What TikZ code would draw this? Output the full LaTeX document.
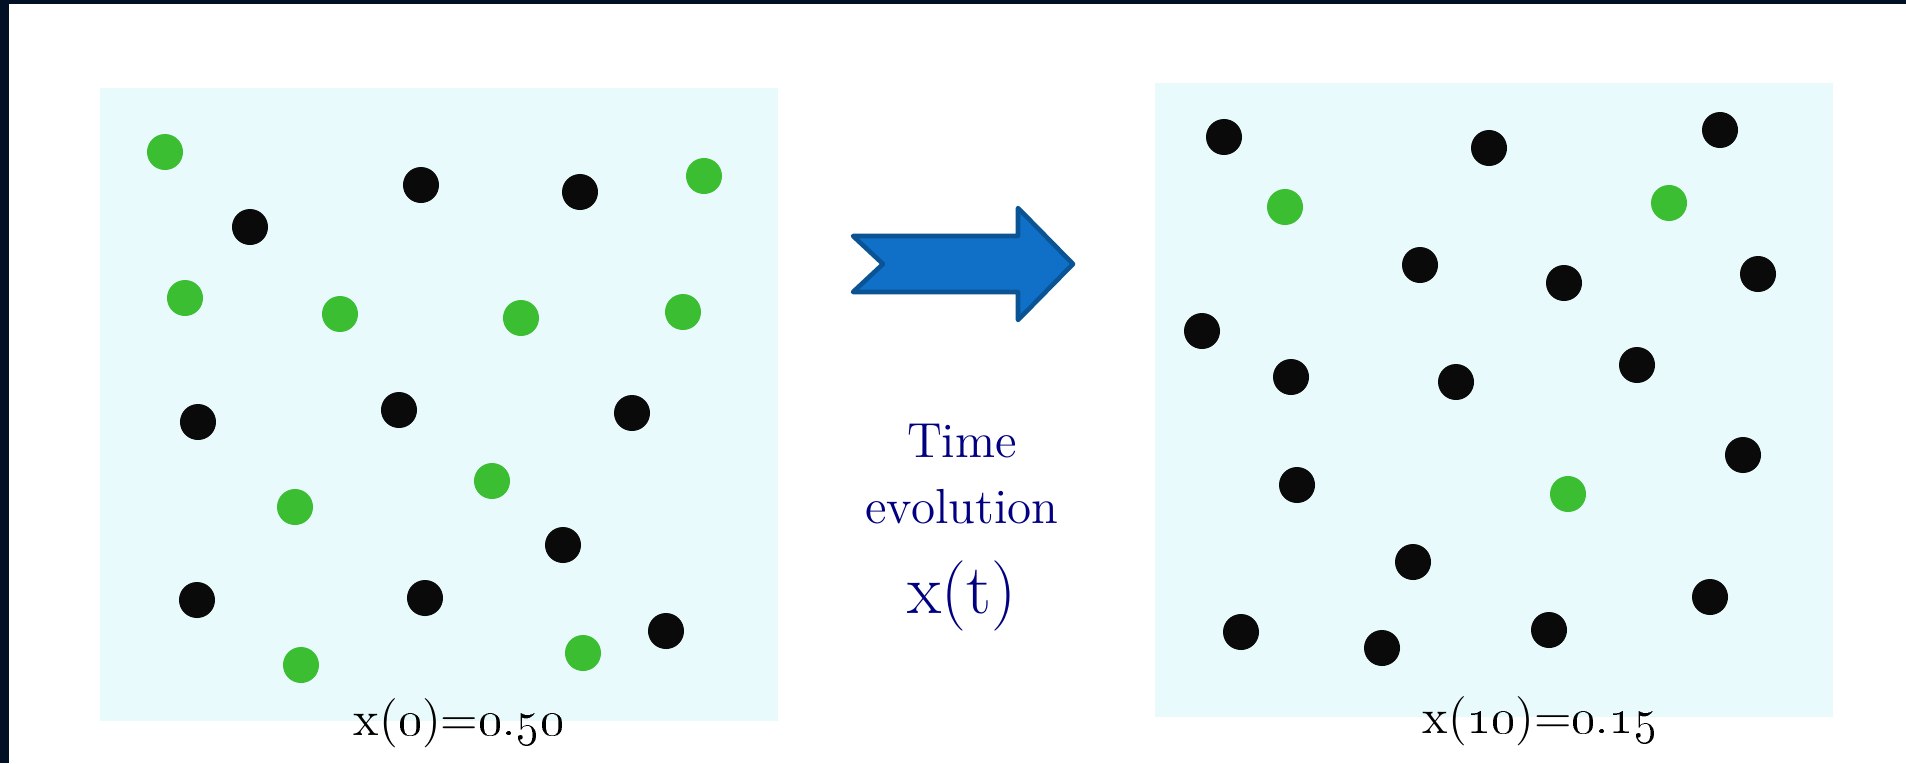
\documentclass[tikz,border=0pt]{standalone}
\usetikzlibrary{positioning}
\definecolor{frame}{RGB}{2,16,38}
\definecolor{boxcyan}{RGB}{232,250,252}
\definecolor{dotgreen}{RGB}{60,190,50}
\definecolor{dotblack}{RGB}{10,10,10}
\definecolor{arrowfill}{RGB}{16,112,200}
\definecolor{arrowline}{RGB}{10,84,150}
\definecolor{navytext}{RGB}{0,0,128}
\tikzset{
  particle/.style={
    inner sep = 0pt,
    shape = circle,
    minimum size = 0.36cm
  },
  green/.style={
    particle,
    fill = dotgreen
  },
  black/.style={
    particle,
    fill = dotblack
  },
  box/.style={
    fill = boxcyan,
    inner sep = 0pt,
    minimum width = 6.78cm,
    minimum height = 6.33cm
  },
  caption/.style={
    anchor = base,
    inner sep = 0pt,
    font = \fontsize{14}{18.5}\selectfont
  }
}

\begin{document}
\begin{tikzpicture}[x=0.01cm,y=-0.01cm]
  \useasboundingbox[fill=white] (0,0) rectangle (1906,763);
  % dark frame
  \fill[frame] (0,0) rectangle (1906,4);
  \fill[frame] (0,0) rectangle (9,763);
  % the two boxes
  \node[box] (before) at (439,404.5) {};
  \node[box] (after) at (1494,400) {};
  % particles at t=0
  \foreach \p [count=\i] in {(165,152),(704,176),(185,298),(340,314),(521,318),
      (683,312),(492,481),(295,507),(301,665),(583,653)}{
    \node[green] (g\i) at \p {};
  }
  \foreach \p [count=\i] in {(421,185),(580,192),(250,227),(198,422),(399,410),
      (632,413),(563,545),(197,600),(425,598),(666,631)}{
    \node[black] (b\i) at \p {};
  }
  % particles at t=10
  \foreach \p [count=\i] in {(1285,207),(1669,203),(1568,494)}{
    \node[green] (G\i) at \p {};
  }
  \foreach \p [count=\i] in {(1224,137),(1489,148),(1720,130),(1420,265),(1564,283),
      (1758,274),(1202,331),(1291,377),(1456,382),(1637,365),(1297,485),(1743,455),
      (1413,562),(1710,597),(1241,632),(1382,648),(1549,630)}{
    \node[black] (B\i) at \p {};
  }
  % block arrow
  \draw[fill=arrowfill,draw=arrowline,line width=1.3pt,line join=round]
    (853,236) -- (1018,236) -- (1018,208) -- (1073,264) -- (1018,320)
    -- (1018,292) -- (853,292) -- (883,264) -- cycle;
  \node[caption,text=navytext,align=center] (evo) at (962,523) {Time\\evolution};
  \node[caption,text=navytext,font=\fontsize{20}{24}\selectfont] (xt) at (962,613) {x(t)};
  % fractions
  \node[caption] (x0) at (459,735) {x(\oldstylenums{0})=\oldstylenums{0.50}};
  \node[caption] (x10) at (1540,733) {x(\oldstylenums{10})=\oldstylenums{0.15}};
\end{tikzpicture}
\end{document}
